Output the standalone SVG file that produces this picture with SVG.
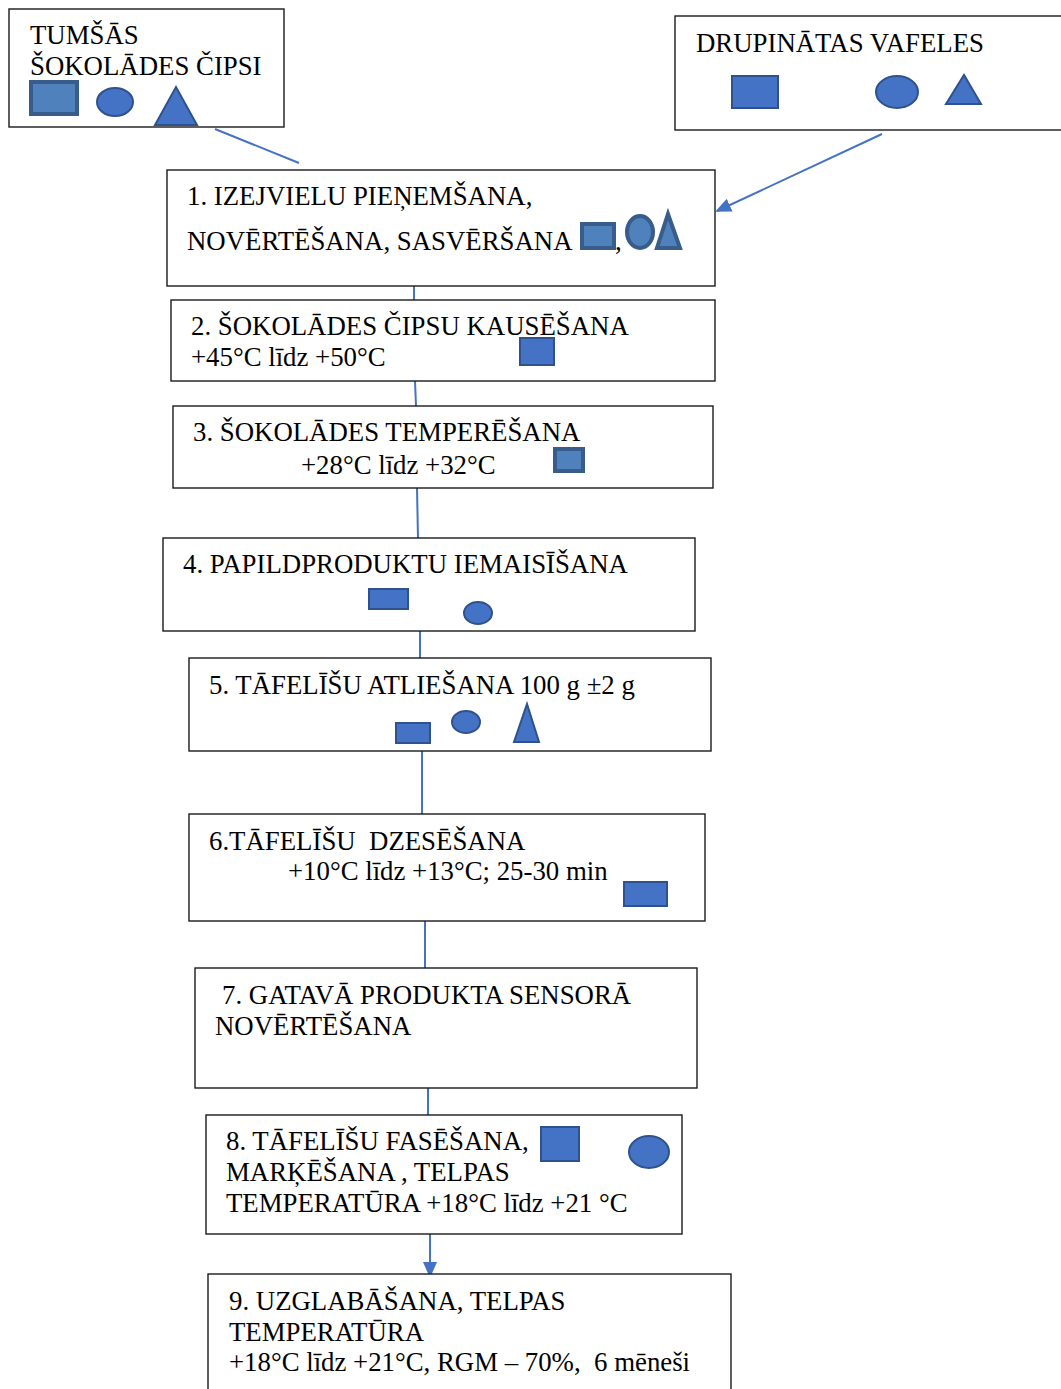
<svg xmlns="http://www.w3.org/2000/svg" width="1061" height="1389" viewBox="0 0 1061 1389">
<style>
.box{fill:#fff;stroke:#1a1a1a;stroke-width:1.4}
.t{font-family:"Liberation Serif","Times New Roman",serif;font-size:26.8px;fill:#000}
.sh{fill:#4472C4;stroke:#2F528F;stroke-width:2}
.sh2{fill:#4F81BD;stroke:#385D8A;stroke-width:4}
.c{stroke:#4472C4;stroke-width:2;fill:none}
</style>
<defs>
<marker id="ah2" markerWidth="16" markerHeight="16" refX="14" refY="8" orient="auto" markerUnits="userSpaceOnUse" viewBox="0 0 16 16">
<path d="M0,1 L16,8 L0,15 z" fill="#4472C4"/>
</marker>
</defs>
<rect width="1061" height="1389" fill="#fff"/>
<g id="connectors">
<line class="c" x1="215" y1="129" x2="299" y2="163" stroke-width="1.3"/>
<line class="c" x1="882" y1="134" x2="717" y2="211" marker-end="url(#ah2)"/>
<line class="c" x1="414" y1="286" x2="414" y2="300"/>
<line class="c" x1="415" y1="381" x2="416" y2="406"/>
<line class="c" x1="417" y1="488" x2="418" y2="538"/>
<line class="c" x1="420" y1="631" x2="420" y2="658"/>
<line class="c" x1="422" y1="751" x2="422" y2="814"/>
<line class="c" x1="425" y1="921" x2="425" y2="968"/>
<line class="c" x1="428" y1="1088" x2="428" y2="1115"/>
<line class="c" x1="430" y1="1234" x2="430" y2="1276" marker-end="url(#ah2)"/>
</g>
<g id="tumsas">
<rect class="box" x="9" y="9" width="275" height="118"/>
<text class="t" x="30" y="44">TUMŠĀS</text>
<text class="t" x="30" y="75">ŠOKOLĀDES ČIPSI</text>
<rect class="sh2" x="31" y="82" width="46" height="32"/>
<ellipse class="sh" cx="115" cy="102" rx="18" ry="14"/>
<polygon class="sh" points="155,125 197,125 176,87"/>
</g>
<g id="drupinatas">
<rect class="box" x="675" y="16" width="390" height="114"/>
<text class="t" x="696" y="52">DRUPINĀTAS VAFELES</text>
<rect class="sh" x="732" y="76" width="46" height="32"/>
<ellipse class="sh" cx="897" cy="92" rx="21" ry="16"/>
<polygon class="sh" points="946,104 981,104 964,75"/>
</g>
<g id="step1">
<rect class="box" x="167" y="170" width="548" height="116"/>
<text class="t" x="187" y="205">1. IZEJVIELU PIEŅEMŠANA,</text>
<text class="t" x="187" y="250">NOVĒRTĒŠANA, SASVĒRŠANA</text>
<rect class="sh2" x="582" y="224" width="32" height="24"/>
<text class="t" x="615" y="250">,</text>
<ellipse class="sh2" cx="640" cy="232" rx="13" ry="16"/>
<polygon class="sh2" points="657,248 680,248 668,214"/>
</g>
<g id="step2">
<rect class="box" x="171" y="300" width="544" height="81"/>
<text class="t" x="191" y="335">2. ŠOKOLĀDES ČIPSU KAUSĒŠANA</text>
<text class="t" x="191" y="366">+45°C līdz +50°C</text>
<rect class="sh" x="520" y="338" width="34" height="27"/>
</g>
<g id="step3">
<rect class="box" x="173" y="406" width="540" height="82"/>
<text class="t" x="193" y="441">3. ŠOKOLĀDES TEMPERĒŠANA</text>
<text class="t" x="301" y="474">+28°C līdz +32°C</text>
<rect class="sh2" x="555" y="449" width="28" height="22"/>
</g>
<g id="step4">
<rect class="box" x="163" y="538" width="532" height="93"/>
<text class="t" x="183" y="573">4. PAPILDPRODUKTU IEMAISĪŠANA</text>
<rect class="sh" x="369" y="589" width="39" height="20"/>
<ellipse class="sh" cx="478" cy="613" rx="14" ry="11"/>
</g>
<g id="step5">
<rect class="box" x="189" y="658" width="522" height="93"/>
<text class="t" x="209" y="694">5. TĀFELĪŠU ATLIEŠANA 100 g ±2 g</text>
<rect class="sh" x="396" y="723" width="34" height="20"/>
<ellipse class="sh" cx="466" cy="722" rx="14" ry="11"/>
<polygon class="sh" points="514,742 539,742 527,704"/>
</g>
<g id="step6">
<rect class="box" x="189" y="814" width="516" height="107"/>
<text class="t" x="209" y="850" xml:space="preserve">6.TĀFELĪŠU  DZESĒŠANA</text>
<text class="t" x="288" y="880">+10°C līdz +13°C; 25-30 min</text>
<rect class="sh" x="624" y="882" width="43" height="24"/>
</g>
<g id="step7">
<rect class="box" x="195" y="968" width="502" height="120"/>
<text class="t" x="222" y="1004">7. GATAVĀ PRODUKTA SENSORĀ</text>
<text class="t" x="215" y="1035">NOVĒRTĒŠANA</text>
</g>
<g id="step8">
<rect class="box" x="206" y="1115" width="476" height="119"/>
<text class="t" x="226" y="1150">8. TĀFELĪŠU FASĒŠANA,</text>
<text class="t" x="226" y="1181">MARĶĒŠANA , TELPAS</text>
<text class="t" x="226" y="1212">TEMPERATŪRA +18°C līdz +21 °C</text>
<rect class="sh" x="541" y="1127" width="38" height="34"/>
<ellipse class="sh" cx="649" cy="1152" rx="20" ry="16"/>
</g>
<g id="step9">
<rect class="box" x="208" y="1274" width="523" height="120"/>
<text class="t" x="229" y="1310">9. UZGLABĀŠANA, TELPAS</text>
<text class="t" x="229" y="1341">TEMPERATŪRA</text>
<text class="t" x="229" y="1371" xml:space="preserve">+18°C līdz +21°C, RGM – 70%,  6 mēneši</text>
</g>
</svg>
